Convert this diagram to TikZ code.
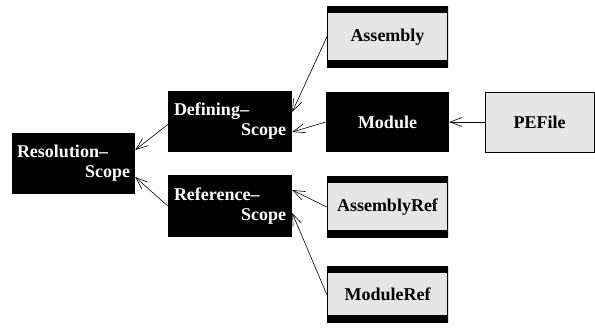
\documentclass[tikz,border=0pt]{standalone}
\usepackage{fontspec}
\setmainfont{Liberation Serif}
\usetikzlibrary{arrows.meta}
\definecolor{boxgray}{HTML}{E6E6E6}
\tikzset{
  scopebox/.style={fill=black, text=white, inner sep=0pt, align=left,
    font=\bfseries\fontsize{18}{20}\selectfont},
  graybox/.style={fill=boxgray, draw=black, line width=0.8pt, inner sep=0pt,
    font=\bfseries\fontsize{18}{20}\selectfont},
  barbox/.style={fill=boxgray, inner sep=0pt, font=\bfseries\fontsize{18}{20}\selectfont,
    path picture={
      \fill[black] (path picture bounding box.north west) rectangle ([yshift=-7pt]path picture bounding box.north east);
      \fill[black] (path picture bounding box.south west) rectangle ([yshift=8pt]path picture bounding box.south east);
      \draw[black, line width=1.4pt] (path picture bounding box.north west) -- (path picture bounding box.south west);
      \draw[black, line width=1.4pt] (path picture bounding box.north east) -- (path picture bounding box.south east);
    }},
  conn/.style={line width=0.6pt, -{Straight Barb[length=12pt,width=9pt,line width=0.6pt]}}
}
\begin{document}
\begin{tikzpicture}[x=1pt,y=-1pt]
\useasboundingbox (0,0) rectangle (595,327);
\node[scopebox, minimum width=123pt, minimum height=61pt, text width=113pt] (res) at (73.5,163.5) {Resolution--\\\hspace*{\fill}Scope};
\node[scopebox, minimum width=124pt, minimum height=61pt, text width=112pt] (def) at (230,121.5) {Defining--\\\hspace*{\fill}Scope};
\node[scopebox, minimum width=124pt, minimum height=62pt, text width=112pt] (ref) at (230,206) {Reference--\\\hspace*{\fill}Scope};
\node[scopebox, align=center, minimum width=123pt, minimum height=60pt] (mod) at (387.5,122) {Module};
\node[graybox, minimum width=109pt, minimum height=60pt] (pe) at (539.5,122) {PEFile};
\node[barbox, minimum width=121pt, minimum height=62pt] (asm) at (387.5,37) {\raisebox{3pt}{Assembly}};
\node[barbox, minimum width=121pt, minimum height=62pt] (aref) at (387.5,207) {AssemblyRef};
\node[barbox, minimum width=121pt, minimum height=57pt] (mref) at (387.5,294.5) {ModuleRef};
\draw[conn] ([yshift=-3pt]def.west) -- ([yshift=13.5pt]res.east);
\draw[conn] (ref.west) -- ([yshift=-13.5pt]res.east);
\draw[conn] (asm.west) -- ([yshift=9.5pt]def.east);
\draw[conn] (mod.west) -- ([yshift=-10.5pt]def.east);
\draw[conn] (pe.west) -- (mod.east);
\draw[conn] (aref.west) -- ([yshift=16pt]ref.east);
\draw[conn] (mref.west) -- ([yshift=-7pt]ref.east);
\end{tikzpicture}
\end{document}
